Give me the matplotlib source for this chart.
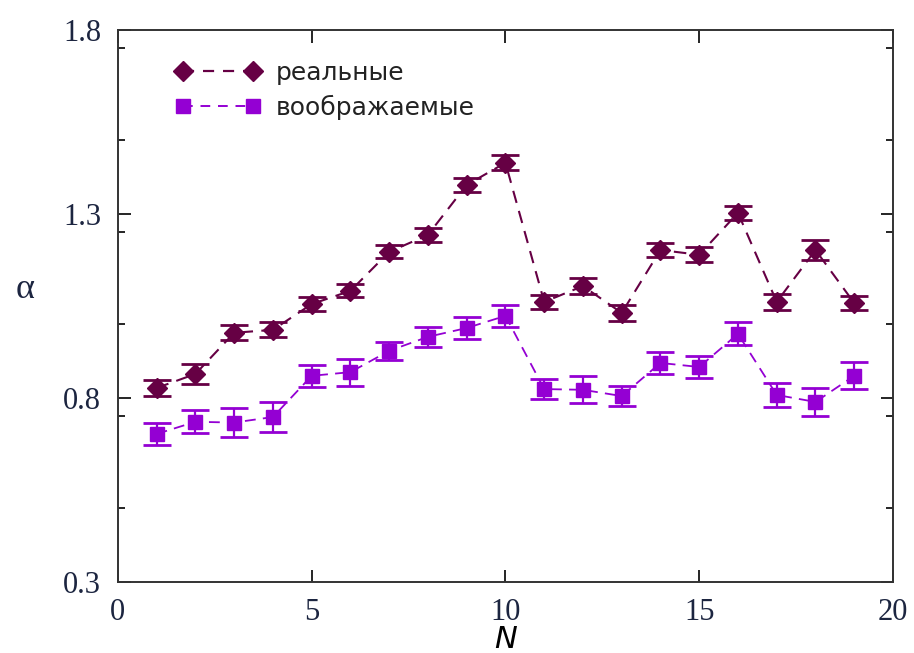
import numpy as np
import matplotlib
matplotlib.use('Agg')
import matplotlib.pyplot as plt
from matplotlib.ticker import MultipleLocator
from matplotlib.lines import Line2D

N = list(range(1, 20))

# real part
alpha_re = [0.827, 0.865, 0.977, 0.985, 1.055, 1.091, 1.197, 1.243, 1.379, 1.439,
            1.061, 1.104, 1.031, 1.202, 1.189, 1.303, 1.061, 1.202, 1.058]
err_re = [0.022, 0.026, 0.020, 0.020, 0.018, 0.018, 0.018, 0.020, 0.020, 0.020,
          0.020, 0.022, 0.022, 0.020, 0.020, 0.020, 0.022, 0.028, 0.018]

# imaginary part
alpha_im = [0.702, 0.735, 0.733, 0.748, 0.860, 0.870, 0.928, 0.966, 0.990, 1.023,
            0.824, 0.822, 0.805, 0.895, 0.884, 0.974, 0.808, 0.789, 0.860]
err_im = [0.030, 0.031, 0.040, 0.040, 0.030, 0.037, 0.024, 0.027, 0.029, 0.029,
          0.027, 0.037, 0.028, 0.029, 0.031, 0.031, 0.032, 0.037, 0.037]

labels = ['реальные', 'воображаемые']
y_ticks = [0.3, 0.8, 1.3, 1.8]
x_ticks = [0, 5, 10, 15, 20]

fig = plt.figure(figsize=(9.14, 6.53), dpi=100)
ax = fig.add_axes([0.129, 0.109, 0.848, 0.845])

c_re = '#660044'
c_im = '#9400d3'
dash = (0, (6, 4))

ax.errorbar(N, alpha_re, yerr=err_re, color=c_re, marker='D', markersize=10.5,
            linestyle=dash, linewidth=1.5, capsize=10, capthick=2,
            elinewidth=1.6)
ax.errorbar(N, alpha_im, yerr=err_im, color=c_im, marker='s', markersize=10.5,
            linestyle=dash, linewidth=1.3, capsize=10, capthick=2,
            elinewidth=1.6)

ax.set_xlim(0, 20)
ax.set_ylim(0.3, 1.8)
ax.set_xticks(x_ticks)
ax.set_yticks(y_ticks)
ax.yaxis.set_minor_locator(MultipleLocator(0.25))
ax.tick_params(which='both', direction='in', top=True, right=True,
               labelsize=22, labelcolor='#1c2540', width=1.2)
ax.tick_params(which='major', length=9, pad=12)
ax.tick_params(which='minor', length=5)
for lab in ax.get_xticklabels() + ax.get_yticklabels():
    lab.set_family('Liberation Serif')
for sp in ax.spines.values():
    sp.set_linewidth(1.4)
    sp.set_color('#333333')

ax.set_xlabel('N', fontsize=22, style='italic', family='DejaVu Sans')
ax.xaxis.set_label_coords(0.5, -0.078)
ax.set_ylabel('α', fontsize=26, family='Liberation Serif', rotation=0,
              color='#1c2540')
ax.yaxis.set_label_coords(-0.12, 0.5)

handles = [
    Line2D([], [], color=c_re, marker='D', markersize=10, linestyle=(0, (5, 4)), linewidth=1.6),
    Line2D([], [], color=c_im, marker='s', markersize=10, linestyle=(0, (5, 4)), linewidth=1.4),
]
leg = ax.legend(handles, labels, loc='upper left', frameon=False, fontsize=18,
                handlelength=3.4, numpoints=2, bbox_to_anchor=(0.045, 0.985),
                handletextpad=0.6, labelspacing=0.4)
for t in leg.get_texts():
    t.set_color('#222222')
    t.set_family('DejaVu Sans')

plt.savefig('out.png', dpi=100)
